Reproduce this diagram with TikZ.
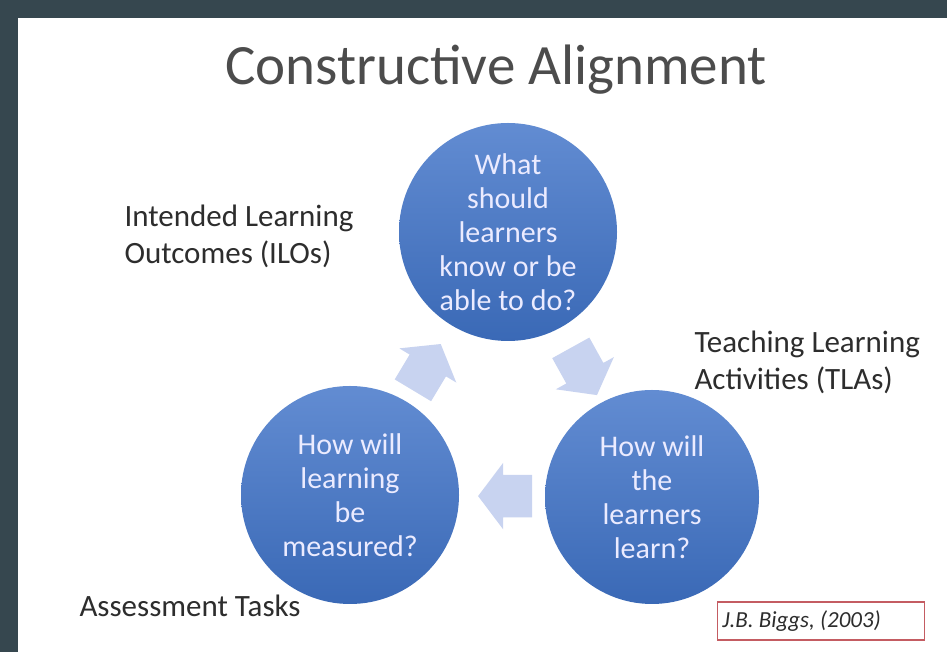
\documentclass[tikz,border=0pt]{standalone}
\usepackage{fontspec}
\setmainfont{Carlito}
\usetikzlibrary{shapes.arrows,calc}
\definecolor{frame}{RGB}{54,71,79}
\definecolor{ballhi}{RGB}{98,140,210}
\definecolor{balllo}{RGB}{58,105,182}
\definecolor{arrowfill}{RGB}{200,211,240}
\definecolor{boxred}{RGB}{196,92,98}
\definecolor{textgray}{RGB}{45,45,45}
\begin{document}
\begin{tikzpicture}[x=1pt, y=1pt,
    ball/.style={circle, minimum size=218pt, inner sep=0pt, top color=ballhi, bottom color=balllo,
        text=white!92!blue, align=center, font=\fontsize{30}{34}\selectfont},
    turn/.style={single arrow, fill=arrowfill, minimum height=54pt, inner xsep=0pt, inner ysep=21pt,
        single arrow head extend=12pt, single arrow tip angle=106},
    tag/.style={align=left, anchor=west, text=textgray, font=\fontsize{31}{37}\selectfont}]
    \fill[frame] (0,0) rectangle (947,652);
    \fill[white] (18,0) rectangle (947,634);
    \useasboundingbox (0,0) rectangle (947,652);
          \node[text=textgray!85!white, font=\fontsize{57}{62}\selectfont] (title) at (496,582) {Constructive Alignment};
          \node[ball] (ilo) at (508,420) {What\\should\\learners\\know or be\\able to do?};
          \node[ball] (at) at (350,157) {How will\\learning\\be\\measured?};
          \node[ball, minimum size=214pt] (tla) at (652,155) {How will\\the\\learners\\learn?};
          \node[turn, rotate=59] (a1) at ($(at)!0.46!(ilo)$) {};
          \node[turn, rotate=-61] (a2) at ($(ilo)!0.5!(tla)$) {};
          \node[turn, rotate=180] (a3) at ($(tla)!0.46!(at)$) {};
          \node[tag] (ilotxt) at (121,416) {Intended Learning\\Outcomes (ILOs)};
          \node[tag] (tlatxt) at (691,290) {Teaching Learning\\Activities (TLAs)};
          \node[tag] (attxt) at (76,46) {Assessment Tasks};
          \node[draw=boxred, line width=1.3pt, minimum width=207pt, minimum height=38pt] (ref) at (821,31) {};
          \node[anchor=west, text=textgray, font=\fontsize{23}{26}\selectfont\itshape] (reftxt) at ([xshift=2pt]ref.west) {J.B. Biggs, (2003)};
    \end{tikzpicture}
\end{document}
